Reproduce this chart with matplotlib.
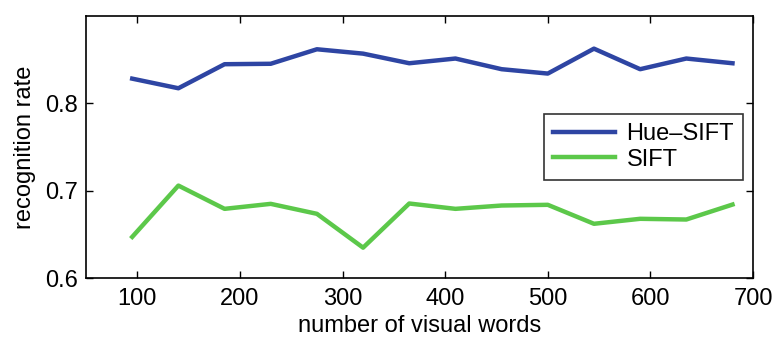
import numpy as np
import matplotlib
matplotlib.use('Agg')
import matplotlib.pyplot as plt

plt.rcParams['font.family'] = ['Liberation Sans', 'DejaVu Sans']

words = [95, 140, 185, 230, 275, 320, 365, 410, 455, 500, 545, 590, 635, 680]
hue_sift = [0.828, 0.817, 0.8445, 0.845, 0.8616, 0.8566, 0.8456, 0.851,
            0.8388, 0.8338, 0.8623, 0.8388, 0.851, 0.8456]
sift = [0.647, 0.7057, 0.6791, 0.6848, 0.6734, 0.6347, 0.6852, 0.6791,
        0.6829, 0.6837, 0.662, 0.6677, 0.6669, 0.684]

fig = plt.figure(figsize=(7.8, 3.38), dpi=100)
ax = fig.add_axes([0.1103, 0.1775, 0.8551, 0.7761])

ax.plot(words, hue_sift, color='#2E45A3', lw=3.2, label='Hue\u2013SIFT')
ax.plot(words, sift, color='#5CC84A', lw=3.2, label='SIFT')

ax.set_xlim(50, 700)
ax.set_ylim(0.6, 0.9)
ax.set_xticks(np.arange(100, 701, 100))
ax.set_yticks([0.6, 0.7, 0.8])
ax.tick_params(direction='in', top=True, right=True, length=5, width=1,
               labelsize=17, pad=6)
ax.tick_params(axis='x', pad=7)
for s in ax.spines.values():
    s.set_linewidth(1.2)

ax.set_xlabel('number of visual words', fontsize=17, labelpad=4)
ax.set_ylabel('recognition rate', fontsize=17, labelpad=6)

leg = ax.legend(loc='upper left', bbox_to_anchor=(0.687, 0.625), fontsize=17,
                frameon=True, fancybox=False, handlelength=2.6,
                handletextpad=0.5, borderpad=0.38, labelspacing=0.15,
                borderaxespad=0)
leg.get_frame().set_edgecolor('black')
leg.get_frame().set_linewidth(1.2)

fig.savefig('out.png', dpi=100)
